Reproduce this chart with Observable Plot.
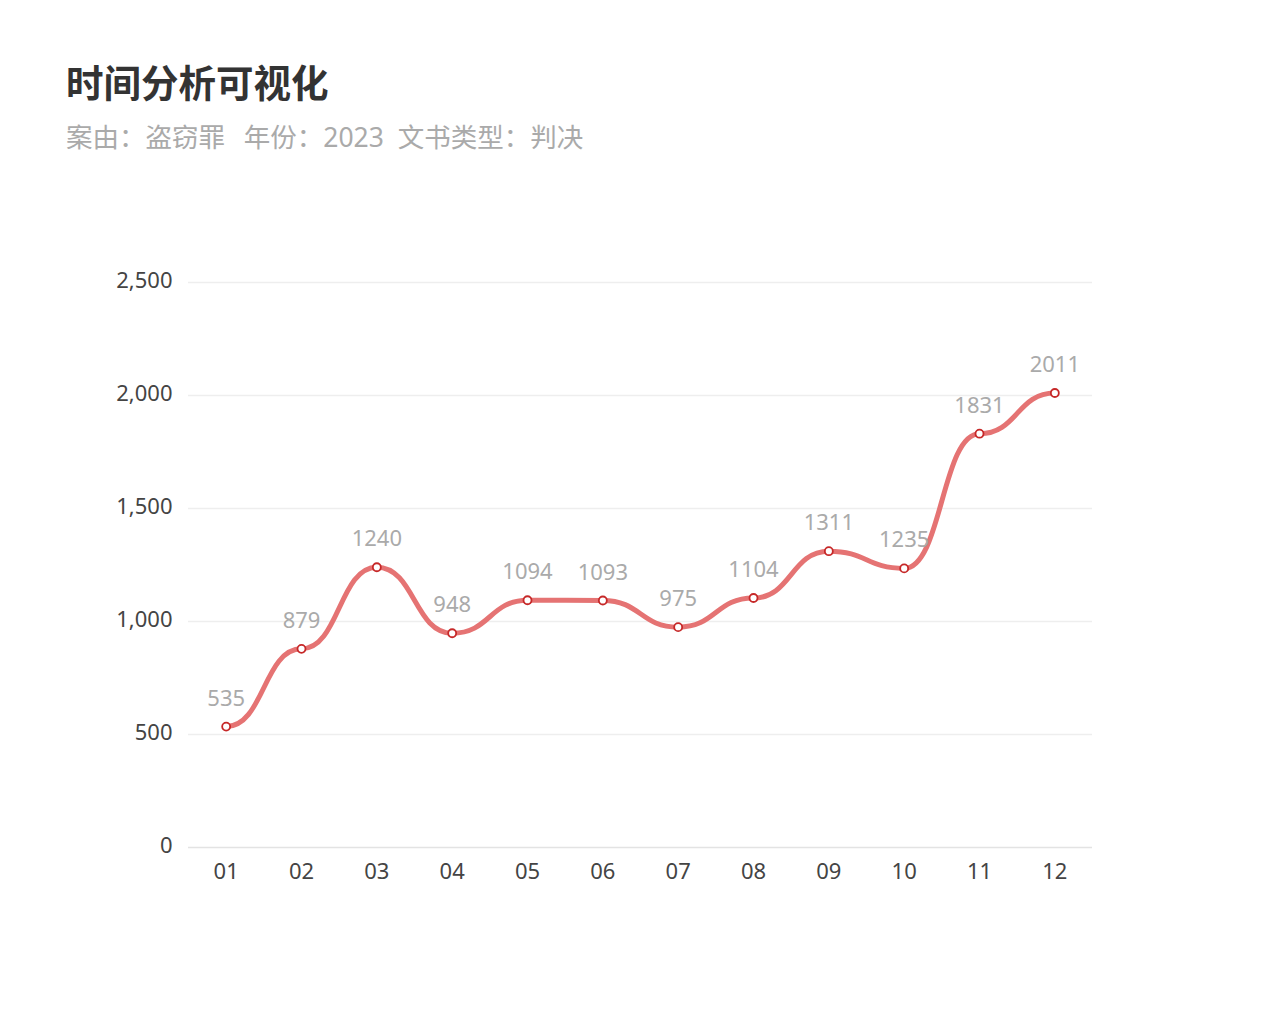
<!DOCTYPE html>
<html>
<head>
<meta charset="utf-8">
<script src="https://cdn.jsdelivr.net/npm/d3@7"></script>
<script src="https://cdn.jsdelivr.net/npm/@observablehq/plot@0.6"></script>
<style>
  html, body { margin: 0; padding: 0; background: #fff; }
  #wrap { position: relative; width: 1280px; height: 1035px; font-family: "Noto Sans", "Noto Sans CJK SC", sans-serif; }
  #title { position: absolute; left: 66px; top: 61px; font-size: 37.5px; line-height: 40px; font-weight: bold; color: #333; font-family: "Noto Sans CJK SC", sans-serif; }
  #subtitle { position: absolute; left: 66px; top: 121px; font-size: 26.5px; line-height: 32px; color: #aaa; white-space: pre; }
  #chart { position: absolute; left: 0; top: 180px; }
</style>
</head>
<body>
<div id="wrap">
  <div id="title">时间分析可视化</div>
  <div id="subtitle"><span style="margin-right:5px">案由：盗窃罪</span>  年份：2023  文书类型：判决</div>
  <div id="chart"></div>
</div>
<script>
const months = ["01","02","03","04","05","06","07","08","09","10","11","12"];
const counts = [535, 879, 1240, 948, 1094, 1093, 975, 1104, 1311, 1235, 1831, 2011];
const yTicks = [0, 500, 1000, 1500, 2000, 2500];

const data = months.map((m, i) => ({month: m, count: counts[i]}));
const font = '"Noto Sans", "Noto Sans CJK SC", sans-serif';

const chart = Plot.plot({
  width: 1280,
  height: 855,
  marginTop: 102,
  marginBottom: 188,
  marginLeft: 188,
  marginRight: 188,
  style: {fontFamily: font, fontSize: "22px", background: "#fff"},
  x: {type: "point", domain: months, padding: 0.5, round: false, label: null},
  y: {domain: [0, 2500], label: null},
  marks: [
    Plot.ruleY(yTicks.filter(d => d > 0), {stroke: "#eeeeee", strokeWidth: 1.5}),
    Plot.ruleY([0], {stroke: "#e3e3e3", strokeWidth: 1.5}),
    Plot.axisY(yTicks, {tickSize: 0, tickPadding: 16, tickFormat: d3.format(","), fill: "#444", fontSize: 22, dy: -2, label: null}),
    Plot.axisX(months, {tickSize: 0, tickPadding: 16, fill: "#444", fontSize: 22, label: null}),
    Plot.line(data, {x: "month", y: "count", stroke: "#e57373", strokeWidth: 5, curve: "bump-x"}),
    Plot.dot(data, {x: "month", y: "count", r: 4, fill: "#fff", stroke: "#c62828", strokeWidth: 1.8}),
    Plot.text(data, {x: "month", y: "count", text: d => String(d.count), dy: -28, fill: "#aaa", fontSize: 22})
  ]
});
document.getElementById("chart").appendChild(chart);
</script>
</body>
</html>
